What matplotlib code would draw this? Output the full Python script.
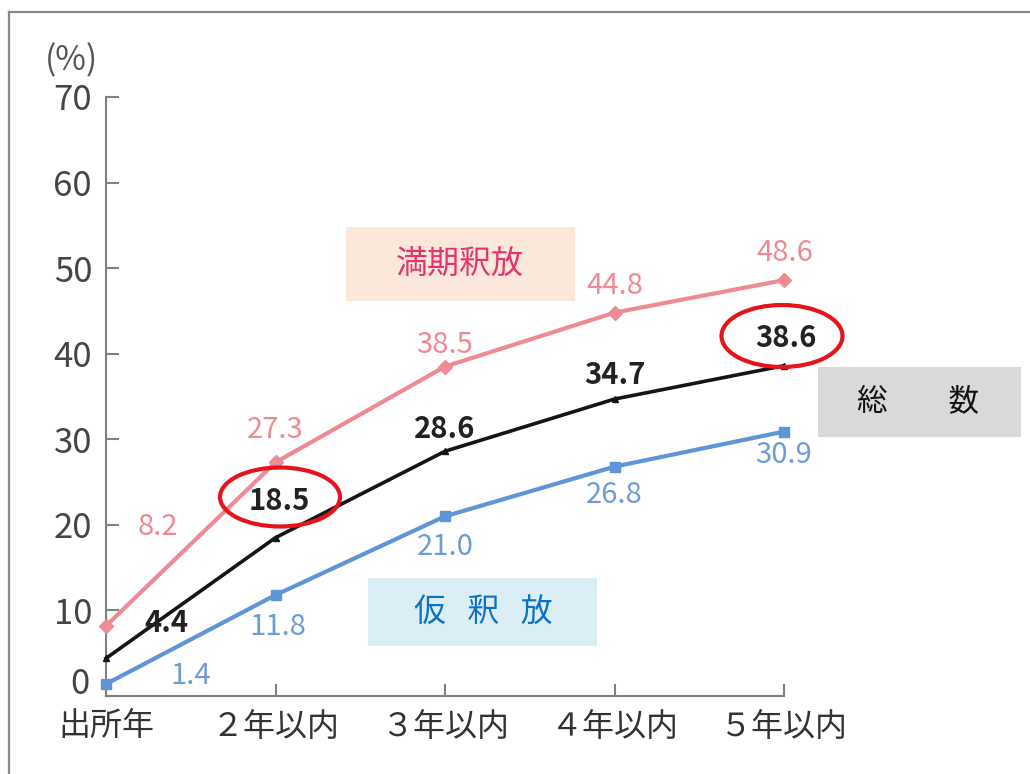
import matplotlib
matplotlib.use("Agg")
import matplotlib.pyplot as plt
from matplotlib.patches import Rectangle, Ellipse
from matplotlib.lines import Line2D

plt.rcParams['font.family'] = ['Noto Sans CJK JP', 'DejaVu Sans']

# ── データ ──
categories = ['出所年', '２年以内', '３年以内', '４年以内', '５年以内']
manki = [8.2, 27.3, 38.5, 44.8, 48.6]      # 満期釈放
sousu = [4.4, 18.5, 28.6, 34.7, 38.6]      # 総数
karishaku = [1.4, 11.8, 21.0, 26.8, 30.9]  # 仮釈放
yticks = [0, 10, 20, 30, 40, 50, 60, 70]

PINK = '#EE8A91'
BLACK = '#151515'
BLUE = '#5E95D6'
AXIS = '#808080'

W, H = 1030, 774
fig = plt.figure(figsize=(W / 100, H / 100), dpi=100)


def fx(x):
    return x / W


def fy(y):
    return 1 - y / H


# 外枠 (左と上だけ)
fig.add_artist(Line2D([fx(9), fx(9)], [0, fy(12)], color='#8a8a8a', lw=1.6))
fig.add_artist(Line2D([fx(9), 1], [fy(12), fy(12)], color='#8a8a8a', lw=1.6))


# 系列名ボックス (背景)
def box(x0, y0, x1, y1, face):
    fig.add_artist(Rectangle((fx(x0), fy(y1)), fx(x1) - fx(x0), fy(y0) - fy(y1),
                             transform=fig.transFigure, facecolor=face,
                             edgecolor='none', zorder=-1))


box(346, 227, 575, 301, '#FCE8DA')
box(818, 367, 1021, 437, '#D9D9D9')
box(368, 578, 597, 646, '#DCEEF5')

ax = fig.add_axes([fx(106), fy(696), fx(784) - fx(106), fy(97) - fy(696)])
ax.patch.set_visible(False)
xs = list(range(len(categories)))

ax.plot(xs, manki, color=PINK, lw=3, marker='D', ms=7, clip_on=False, zorder=3)
ax.plot(xs, sousu, color=BLACK, lw=2.6, marker='^', ms=5, clip_on=False, zorder=4)
ax.plot(xs, karishaku, color=BLUE, lw=3, marker='s', ms=7, clip_on=False, zorder=3)

ax.set_xlim(0, 4)
ax.set_ylim(0, 70)
ax.set_xticks(xs)
ax.set_xticklabels(categories, fontsize=23, color='#333333')
ax.set_yticks(yticks)
ax.set_yticklabels(['' if v == 0 else str(v) for v in yticks], fontsize=25, color='#454545')
ax.tick_params(axis='both', direction='in', length=9, width=1.5, color=AXIS)
ax.tick_params(axis='y', pad=10)
ax.tick_params(axis='x', pad=11)
for s in ('top', 'right'):
    ax.spines[s].set_visible(False)
for s in ('left', 'bottom'):
    ax.spines[s].set_color(AXIS)
    ax.spines[s].set_linewidth(1.5)

# 0 のラベルは少し上
fig.text(fx(80), fy(684), '0', fontsize=25, color='#454545', ha='center', va='center')
fig.text(fx(72), fy(61), '(%)', fontsize=24, color='#555555', ha='center', va='center')

# 数値ラベル (オフセット: ピクセル)
pink_off = [(52, 99), (0, 32), (0, 22), (0, 27), (1, 27)]
black_off = [(60, 35), (4, 37), (0, 22), (0, 24), (2, 28)]
blue_off = [(85, 8), (2, -32), (0, -31), (0, -28), (0, -23)]

for x, v, o in zip(xs, manki, pink_off):
    ax.annotate(f'{v:.1f}', (x, v), xytext=o, textcoords='offset pixels',
                ha='center', va='center', fontsize=21, color=PINK, zorder=5,
                annotation_clip=False)
for x, v, o in zip(xs, sousu, black_off):
    ax.annotate(f'{v:.1f}', (x, v), xytext=o, textcoords='offset pixels',
                ha='center', va='center', fontsize=21, color='#222222',
                fontweight='bold', zorder=5, annotation_clip=False)
for x, v, o in zip(xs, karishaku, blue_off):
    ax.annotate(f'{v:.1f}', (x, v), xytext=o, textcoords='offset pixels',
                ha='center', va='center', fontsize=21, color='#6E9DD6', zorder=5,
                annotation_clip=False)

# 系列名
fig.text(fx(460), fy(264), '満期釈放', fontsize=23, color='#E5336E', ha='center', va='center')
fig.text(fx(918), fy(403), '総　　数', fontsize=22, color='#111111', ha='center', va='center')
fig.text(fx(483), fy(613), '仮   釈   放', fontsize=23, color='#0E72C4', ha='center', va='center')

# 赤い丸囲み
for cx, cy, w, h in [(280, 497, 120, 59), (782, 336, 121, 62)]:
    fig.add_artist(Ellipse((fx(cx), fy(cy)), fx(w), h / H, transform=fig.transFigure,
                           facecolor='none', edgecolor='#E5141B', lw=3, zorder=10))

fig.savefig('out.png', dpi=100)
